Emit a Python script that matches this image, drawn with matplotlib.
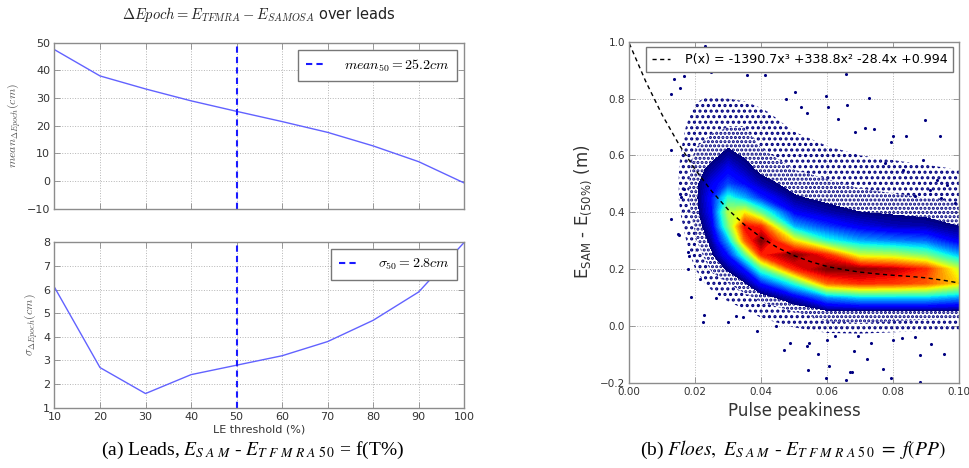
import numpy as np
import matplotlib
matplotlib.use('Agg')
import matplotlib.pyplot as plt

# (a) Leads: epoch difference TFMRA - SAMOSA vs leading-edge threshold
thresholds = [10, 20, 30, 40, 50, 60, 70, 80, 90, 100]
mean_epoch = [47.5, 38.0, 33.3, 29.0, 25.2, 21.5, 17.6, 12.7, 7.0, -0.7]
sigma_epoch = [6.1, 2.7, 1.6, 2.4, 2.8, 3.2, 3.8, 4.7, 5.9, 8.0]
chosen_threshold = 50
mean_50 = 25.2
sigma_50 = 2.8

pp_grid = [0.015, 0.02, 0.025, 0.03, 0.035, 0.04, 0.05, 0.06, 0.07, 0.08, 0.09, 0.10]
de_grid = [-0.05, 0.0, 0.05, 0.1, 0.15, 0.2, 0.25, 0.3, 0.35, 0.4, 0.45,
           0.5, 0.55, 0.6, 0.65, 0.7, 0.75, 0.8, 0.85]
density_cols = [
    [0, 0, 0, 0.1, 0.2, 0.4, 0.6, 0.8, 1.0, 1.2, 1.3, 1.3, 1.3, 1.2, 1.1, 1.0, 0.8, 0.6, 0.3],
    [0, 0, 0.2, 0.5, 0.9, 1.3, 1.6, 1.9, 2.1, 2.3, 2.4, 2.4, 2.3, 2.1, 1.9, 1.7, 1.5, 1.2, 0.7],
    [0, 0.1, 0.5, 1.0, 1.6, 2.1, 2.5, 2.8, 3.2, 3.5, 3.6, 3.3, 2.8, 2.4, 2.1, 1.9, 1.7, 1.4, 0.9],
    [0, 0.3, 0.8, 1.5, 2.0, 2.7, 3.6, 4.8, 6.2, 6.8, 5.6, 4.0, 3.4, 2.8, 2.4, 2.0, 1.7, 1.3, 0.8],
    [0.1, 0.5, 1.2, 1.8, 2.5, 3.6, 5.8, 8.5, 9.3, 7.4, 4.8, 3.5, 2.9, 2.5, 2.2, 2.0, 1.7, 1.2, 0.7],
    [0.3, 0.9, 1.6, 2.2, 3.6, 5.8, 9.0, 10, 9.0, 6.0, 3.8, 2.9, 2.4, 2.1, 1.9, 1.7, 1.4, 1.1, 0.6],
    [0.5, 1.4, 2.0, 3.1, 5.5, 9.0, 10, 7.5, 4.8, 3.4, 2.7, 2.3, 2.0, 1.8, 1.5, 1.2, 1.0, 0.7, 0.4],
    [0.8, 1.8, 2.4, 4.5, 8.5, 10, 9.0, 5.5, 3.9, 2.9, 2.4, 2.1, 1.8, 1.5, 1.2, 1.0, 0.8, 0.5, 0.2],
    [0.8, 1.9, 2.4, 5.0, 9.0, 9.9, 7.0, 4.7, 3.3, 2.6, 2.2, 1.9, 1.6, 1.3, 1.0, 0.8, 0.6, 0.4, 0.2],
    [0.7, 1.8, 2.4, 5.0, 8.9, 9.6, 6.8, 4.4, 3.0, 2.5, 2.1, 1.8, 1.5, 1.2, 1.0, 0.8, 0.5, 0.3, 0.1],
    [0.6, 1.7, 2.4, 5.0, 8.6, 9.0, 6.2, 4.2, 2.9, 2.4, 2.0, 1.7, 1.4, 1.1, 0.9, 0.7, 0.5, 0.3, 0.1],
    [0.5, 1.6, 2.4, 4.6, 7.6, 7.0, 4.8, 3.3, 2.6, 2.2, 1.9, 1.6, 1.3, 1.0, 0.8, 0.6, 0.4, 0.3, 0.1],
]

# isolated points outside the dense cloud
outlier_pp = [0.0229, 0.0135, 0.0154, 0.0127, 0.0127, 0.0166, 0.0247, 0.0358, 0.0411, 0.0504,
              0.0474, 0.0156, 0.0166, 0.0657, 0.0726, 0.0598, 0.066, 0.0896, 0.0942, 0.0839,
              0.0801, 0.0795, 0.0892, 0.083, 0.0932, 0.0965, 0.0947, 0.0987, 0.0911, 0.0868,
              0.0775, 0.0742, 0.0714, 0.0686, 0.0521, 0.0538, 0.0633, 0.0603, 0.0128, 0.0148,
              0.0152, 0.0179, 0.0182, 0.0177, 0.0214, 0.0188, 0.0227, 0.0223, 0.0264, 0.0298,
              0.0388, 0.0345, 0.0323, 0.047, 0.0489, 0.0444, 0.0539, 0.0546, 0.0573, 0.0541,
              0.0606, 0.0597, 0.0656, 0.067, 0.0676, 0.0681, 0.0721, 0.0693, 0.0733, 0.077,
              0.0793, 0.0881, 0.0914, 0.0954, 0.0883, 0.0625, 0.06, 0.0828, 0.0867, 0.0799]
outlier_de = [0.985, 0.87, 0.838, 0.815, 0.62, 0.879, 0.893, 0.882, 0.882, 0.823,
              0.80, 0.454, 0.48, 0.885, 0.803, 0.808, 0.777, 0.724, 0.668, 0.668,
              0.668, 0.647, 0.583, 0.55, 0.514, 0.497, 0.451, 0.433, 0.477, 0.456,
              0.574, 0.692, 0.697, 0.683, 0.769, 0.75, 0.729, 0.77, 0.375, 0.323,
              0.32, 0.259, 0.245, 0.201, 0.164, 0.102, 0.038, 0.013, 0.097, 0.013,
              -0.018, 0.030, 0.033, -0.085, -0.061, 0.0, -0.071, -0.06, -0.099, -0.155,
              -0.141, -0.184, -0.191, -0.163, -0.163, -0.088, -0.117, -0.035, -0.06, -0.151,
              -0.183, -0.103, -0.064, -0.1, -0.196, -0.035, -0.05, -0.042, -0.04, -0.05]

# dashed fit curve
fit_pp = [0.0, 0.005, 0.01, 0.015, 0.02, 0.025, 0.03, 0.035, 0.04, 0.045, 0.05,
          0.055, 0.06, 0.065, 0.07, 0.075, 0.08, 0.085, 0.09, 0.095, 0.10]
fit_de = [0.994, 0.860, 0.742, 0.640, 0.550, 0.474, 0.409, 0.355, 0.311, 0.275, 0.247,
          0.226, 0.209, 0.198, 0.189, 0.183, 0.178, 0.174, 0.169, 0.161, 0.151]
fit_label = 'P(x) = -1390.7x\u00b3 +338.8x\u00b2 -28.4x +0.994'

plt.rcParams['mathtext.fontset'] = 'cm'
plt.rcParams['hatch.color'] = '#000080'
plt.rcParams['hatch.linewidth'] = 1.5

fig = plt.figure(figsize=(9.69, 4.68), dpi=100)
ax1 = fig.add_axes([0.0562, 0.554, 0.4229, 0.3547])
ax2 = fig.add_axes([0.0562, 0.1288, 0.4229, 0.3534])
ax3 = fig.add_axes([0.6494, 0.1823, 0.3402, 0.7286])

frame = '#8c8c8c'
tick_col = '#333333'


def style_axes(ax, fs):
    for s in ax.spines.values():
        s.set_color(frame)
        s.set_linewidth(1.0)
    ax.tick_params(direction='in', top=True, right=True, length=4, width=0.6,
                   color=frame, labelsize=fs, labelcolor=tick_col, pad=3)
    ax.grid(True, linestyle=':', color='#b5b5b5', linewidth=0.7)
    ax.set_axisbelow(True)


def style_legend(leg):
    leg.get_frame().set_edgecolor('#777777')
    leg.get_frame().set_linewidth(1.0)
    leg.get_frame().set_alpha(1.0)


# --- top-left: mean
ax1.plot(thresholds, mean_epoch, color='#6262ff', lw=1.0)
ax1.axvline(chosen_threshold, color='#1a1aff', ls='--', lw=1.5, dashes=(3, 2),
            label=r'$mean_{50} = %.1f cm$' % mean_50)
ax1.set_xlim(10, 100)
ax1.set_ylim(-10, 50)
ax1.set_xticks(thresholds)
ax1.set_xticklabels([])
ax1.set_yticks(range(-10, 51, 10))
style_axes(ax1, 8)
ax1.set_ylabel(r'$mean_{\Delta Epoch}(cm)$', fontsize=8.5, color='#555555', labelpad=3)
ax1.set_title(r'$\Delta Epoch = E_{TFMRA} - E_{SAMOSA}$ over leads', fontsize=10.5,
              color='#222222', pad=17)
style_legend(ax1.legend(loc='upper right', fontsize=10, fancybox=False, handlelength=1.3,
                        handletextpad=1.5, borderpad=0.55, borderaxespad=0.5))

# --- bottom-left: sigma
ax2.plot(thresholds, sigma_epoch, color='#6262ff', lw=1.0)
ax2.axvline(chosen_threshold, color='#1a1aff', ls='--', lw=1.5, dashes=(3, 2),
            label=r'$\sigma_{50} = %.1f cm$' % sigma_50)
ax2.set_xlim(10, 100)
ax2.set_ylim(1, 8)
ax2.set_xticks(thresholds)
ax2.set_yticks(range(1, 9))
style_axes(ax2, 8)
ax2.set_ylabel(r'$\sigma_{\Delta Epoch}(cm)$', fontsize=8.5, color='#555555', labelpad=2)
ax2.set_xlabel('LE threshold (%)', fontsize=8, color=tick_col, labelpad=2)
style_legend(ax2.legend(loc='upper right', fontsize=10, fancybox=False, handlelength=1.3,
                        handletextpad=1.5, borderpad=0.55, borderaxespad=0.5))

# --- right: floes density scatter
P, D = np.meshgrid(pp_grid, de_grid)
Z = np.array(density_cols).T
ax3.contourf(P, D, Z, levels=[1.3, 2.0, 2.6], colors='none', hatches=['...', '....'])
ax3.contourf(P, D, Z, levels=np.linspace(2.6, 10.3, 70), cmap='jet', vmin=2.6, vmax=10.0)
ax3.scatter(outlier_pp, outlier_de, s=5, color='#000080', lw=0)
ax3.plot(fit_pp, fit_de, color='black', ls='--', lw=1.0, dashes=(3, 2.5), label=fit_label)
ax3.set_xlim(0, 0.1)
ax3.set_ylim(-0.2, 1.0)
ax3.set_xticks(np.arange(0, 0.101, 0.02))
ax3.set_yticks(np.arange(-0.2, 1.01, 0.2))
ax3.set_xticklabels(['0.00', '0.02', '0.04', '0.06', '0.08', '0.10'])
ax3.set_yticklabels(['\u22120.2', '0.0', '0.2', '0.4', '0.6', '0.8', '1.0'])
style_axes(ax3, 7.5)
ax3.set_xlabel('Pulse peakiness', fontsize=12, color='#333333', labelpad=4)
ax3.set_ylabel(r'E$_{\rm SAM}$ - E$_{\rm (50\%)}$ (m)', fontsize=12, color='#333333',
               math_fontfamily='dejavusans', labelpad=4)
style_legend(ax3.legend(loc='upper right', fontsize=9.1, fancybox=False, handlelength=1.4,
                        handletextpad=1.2, borderpad=0.45, borderaxespad=0.45))

# captions
fig.text(0.261, 0.038,
         r'(a) Leads, $E_{S\ A\ M}$ - $E_{T\ F\ M\ R\ A\ 5\,0}$ = f(T%)',
         ha='center', va='center', fontsize=14, family='Liberation Serif',
         math_fontfamily='stix')
fig.text(0.818, 0.038,
         r'(b) $Floes,\ E_{S\ A\ M}$ - $E_{T\ F\ M\ R\ A\ 5\,0}\ =\ f(PP)$',
         ha='center', va='center', fontsize=14, family='Liberation Serif',
         math_fontfamily='stix')

fig.savefig('out.png', dpi=100)
